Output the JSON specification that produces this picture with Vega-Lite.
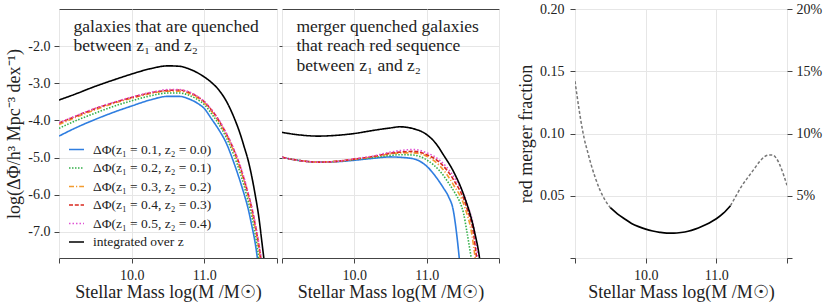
{
  "$schema": "https://vega.github.io/schema/vega-lite/v6.json",
  "padding": {"left": 5, "top": 1, "right": 5, "bottom": 0},
  "config": {
    "font": "Liberation Serif",
    "view": {"stroke": "#444", "strokeWidth": 1},
    "axis": {
      "labelFont": "Liberation Serif", "labelFontSize": 14, "labelColor": "#222",
      "titleFont": "Liberation Serif", "titleFontSize": 18, "titleFontWeight": "normal", "titleColor": "#222",
      "tickColor": "#444", "tickSize": 5, "domain": false, "gridColor": "#e6e6e6", "gridWidth": 1,
      "labelPadding": 4, "titlePadding": 4
    },
    "axisX": {"titlePadding": 1, "labelPadding": 5},
    "legend": {
      "labelFont": "Liberation Serif", "labelFontSize": 13.5, "labelColor": "#222",
      "symbolType": "stroke", "symbolSize": 225, "symbolStrokeWidth": 1.6,
      "labelOffset": 8, "rowPadding": 3.5, "padding": 0, "titlePadding": 0
    }
  },
  "datasets": {
    "quenched": [
      {"series": "ΔΦ(z₁ = 0.1, z₂ = 0.0)", "m": 9.0, "v": -4.42},
      {"series": "ΔΦ(z₁ = 0.1, z₂ = 0.0)", "m": 9.25, "v": -4.18},
      {"series": "ΔΦ(z₁ = 0.1, z₂ = 0.0)", "m": 9.5, "v": -3.97},
      {"series": "ΔΦ(z₁ = 0.1, z₂ = 0.0)", "m": 9.75, "v": -3.78},
      {"series": "ΔΦ(z₁ = 0.1, z₂ = 0.0)", "m": 10.0, "v": -3.61},
      {"series": "ΔΦ(z₁ = 0.1, z₂ = 0.0)", "m": 10.25, "v": -3.45},
      {"series": "ΔΦ(z₁ = 0.1, z₂ = 0.0)", "m": 10.5, "v": -3.35},
      {"series": "ΔΦ(z₁ = 0.1, z₂ = 0.0)", "m": 10.65, "v": -3.35},
      {"series": "ΔΦ(z₁ = 0.1, z₂ = 0.0)", "m": 10.8, "v": -3.43},
      {"series": "ΔΦ(z₁ = 0.1, z₂ = 0.0)", "m": 10.9, "v": -3.53},
      {"series": "ΔΦ(z₁ = 0.1, z₂ = 0.0)", "m": 11.0, "v": -3.68},
      {"series": "ΔΦ(z₁ = 0.1, z₂ = 0.0)", "m": 11.1, "v": -3.96},
      {"series": "ΔΦ(z₁ = 0.1, z₂ = 0.0)", "m": 11.2, "v": -4.25},
      {"series": "ΔΦ(z₁ = 0.1, z₂ = 0.0)", "m": 11.3, "v": -4.6},
      {"series": "ΔΦ(z₁ = 0.1, z₂ = 0.0)", "m": 11.4, "v": -5.1},
      {"series": "ΔΦ(z₁ = 0.1, z₂ = 0.0)", "m": 11.5, "v": -5.68},
      {"series": "ΔΦ(z₁ = 0.1, z₂ = 0.0)", "m": 11.55, "v": -6.0},
      {"series": "ΔΦ(z₁ = 0.1, z₂ = 0.0)", "m": 11.6, "v": -6.35},
      {"series": "ΔΦ(z₁ = 0.1, z₂ = 0.0)", "m": 11.65, "v": -6.8},
      {"series": "ΔΦ(z₁ = 0.1, z₂ = 0.0)", "m": 11.7, "v": -7.3},
      {"series": "ΔΦ(z₁ = 0.1, z₂ = 0.0)", "m": 11.75, "v": -8.0},

      {"series": "ΔΦ(z₁ = 0.2, z₂ = 0.1)", "m": 9.0, "v": -4.21},
      {"series": "ΔΦ(z₁ = 0.2, z₂ = 0.1)", "m": 9.25, "v": -3.99},
      {"series": "ΔΦ(z₁ = 0.2, z₂ = 0.1)", "m": 9.5, "v": -3.8},
      {"series": "ΔΦ(z₁ = 0.2, z₂ = 0.1)", "m": 9.75, "v": -3.62},
      {"series": "ΔΦ(z₁ = 0.2, z₂ = 0.1)", "m": 10.0, "v": -3.47},
      {"series": "ΔΦ(z₁ = 0.2, z₂ = 0.1)", "m": 10.25, "v": -3.34},
      {"series": "ΔΦ(z₁ = 0.2, z₂ = 0.1)", "m": 10.5, "v": -3.26},
      {"series": "ΔΦ(z₁ = 0.2, z₂ = 0.1)", "m": 10.65, "v": -3.26},
      {"series": "ΔΦ(z₁ = 0.2, z₂ = 0.1)", "m": 10.8, "v": -3.33},
      {"series": "ΔΦ(z₁ = 0.2, z₂ = 0.1)", "m": 10.9, "v": -3.43},
      {"series": "ΔΦ(z₁ = 0.2, z₂ = 0.1)", "m": 11.0, "v": -3.57},
      {"series": "ΔΦ(z₁ = 0.2, z₂ = 0.1)", "m": 11.1, "v": -3.82},
      {"series": "ΔΦ(z₁ = 0.2, z₂ = 0.1)", "m": 11.2, "v": -4.1},
      {"series": "ΔΦ(z₁ = 0.2, z₂ = 0.1)", "m": 11.3, "v": -4.45},
      {"series": "ΔΦ(z₁ = 0.2, z₂ = 0.1)", "m": 11.4, "v": -4.9},
      {"series": "ΔΦ(z₁ = 0.2, z₂ = 0.1)", "m": 11.5, "v": -5.45},
      {"series": "ΔΦ(z₁ = 0.2, z₂ = 0.1)", "m": 11.55, "v": -5.78},
      {"series": "ΔΦ(z₁ = 0.2, z₂ = 0.1)", "m": 11.6, "v": -6.15},
      {"series": "ΔΦ(z₁ = 0.2, z₂ = 0.1)", "m": 11.65, "v": -6.55},
      {"series": "ΔΦ(z₁ = 0.2, z₂ = 0.1)", "m": 11.7, "v": -7.05},
      {"series": "ΔΦ(z₁ = 0.2, z₂ = 0.1)", "m": 11.75, "v": -7.7},
      {"series": "ΔΦ(z₁ = 0.2, z₂ = 0.1)", "m": 11.8, "v": -8.4},

      {"series": "ΔΦ(z₁ = 0.3, z₂ = 0.2)", "m": 9.0, "v": -4.11},
      {"series": "ΔΦ(z₁ = 0.3, z₂ = 0.2)", "m": 9.25, "v": -3.9},
      {"series": "ΔΦ(z₁ = 0.3, z₂ = 0.2)", "m": 9.5, "v": -3.71},
      {"series": "ΔΦ(z₁ = 0.3, z₂ = 0.2)", "m": 9.75, "v": -3.54},
      {"series": "ΔΦ(z₁ = 0.3, z₂ = 0.2)", "m": 10.0, "v": -3.4},
      {"series": "ΔΦ(z₁ = 0.3, z₂ = 0.2)", "m": 10.25, "v": -3.28},
      {"series": "ΔΦ(z₁ = 0.3, z₂ = 0.2)", "m": 10.5, "v": -3.21},
      {"series": "ΔΦ(z₁ = 0.3, z₂ = 0.2)", "m": 10.65, "v": -3.21},
      {"series": "ΔΦ(z₁ = 0.3, z₂ = 0.2)", "m": 10.8, "v": -3.28},
      {"series": "ΔΦ(z₁ = 0.3, z₂ = 0.2)", "m": 10.9, "v": -3.38},
      {"series": "ΔΦ(z₁ = 0.3, z₂ = 0.2)", "m": 11.0, "v": -3.52},
      {"series": "ΔΦ(z₁ = 0.3, z₂ = 0.2)", "m": 11.1, "v": -3.75},
      {"series": "ΔΦ(z₁ = 0.3, z₂ = 0.2)", "m": 11.2, "v": -4.03},
      {"series": "ΔΦ(z₁ = 0.3, z₂ = 0.2)", "m": 11.3, "v": -4.38},
      {"series": "ΔΦ(z₁ = 0.3, z₂ = 0.2)", "m": 11.4, "v": -4.8},
      {"series": "ΔΦ(z₁ = 0.3, z₂ = 0.2)", "m": 11.5, "v": -5.33},
      {"series": "ΔΦ(z₁ = 0.3, z₂ = 0.2)", "m": 11.55, "v": -5.65},
      {"series": "ΔΦ(z₁ = 0.3, z₂ = 0.2)", "m": 11.6, "v": -6.0},
      {"series": "ΔΦ(z₁ = 0.3, z₂ = 0.2)", "m": 11.65, "v": -6.4},
      {"series": "ΔΦ(z₁ = 0.3, z₂ = 0.2)", "m": 11.7, "v": -6.88},
      {"series": "ΔΦ(z₁ = 0.3, z₂ = 0.2)", "m": 11.75, "v": -7.45},
      {"series": "ΔΦ(z₁ = 0.3, z₂ = 0.2)", "m": 11.8, "v": -8.1},

      {"series": "ΔΦ(z₁ = 0.4, z₂ = 0.3)", "m": 9.0, "v": -4.07},
      {"series": "ΔΦ(z₁ = 0.4, z₂ = 0.3)", "m": 9.25, "v": -3.87},
      {"series": "ΔΦ(z₁ = 0.4, z₂ = 0.3)", "m": 9.5, "v": -3.68},
      {"series": "ΔΦ(z₁ = 0.4, z₂ = 0.3)", "m": 9.75, "v": -3.52},
      {"series": "ΔΦ(z₁ = 0.4, z₂ = 0.3)", "m": 10.0, "v": -3.38},
      {"series": "ΔΦ(z₁ = 0.4, z₂ = 0.3)", "m": 10.25, "v": -3.26},
      {"series": "ΔΦ(z₁ = 0.4, z₂ = 0.3)", "m": 10.5, "v": -3.19},
      {"series": "ΔΦ(z₁ = 0.4, z₂ = 0.3)", "m": 10.65, "v": -3.18},
      {"series": "ΔΦ(z₁ = 0.4, z₂ = 0.3)", "m": 10.8, "v": -3.25},
      {"series": "ΔΦ(z₁ = 0.4, z₂ = 0.3)", "m": 10.9, "v": -3.35},
      {"series": "ΔΦ(z₁ = 0.4, z₂ = 0.3)", "m": 11.0, "v": -3.5},
      {"series": "ΔΦ(z₁ = 0.4, z₂ = 0.3)", "m": 11.1, "v": -3.72},
      {"series": "ΔΦ(z₁ = 0.4, z₂ = 0.3)", "m": 11.2, "v": -4.0},
      {"series": "ΔΦ(z₁ = 0.4, z₂ = 0.3)", "m": 11.3, "v": -4.35},
      {"series": "ΔΦ(z₁ = 0.4, z₂ = 0.3)", "m": 11.4, "v": -4.76},
      {"series": "ΔΦ(z₁ = 0.4, z₂ = 0.3)", "m": 11.5, "v": -5.28},
      {"series": "ΔΦ(z₁ = 0.4, z₂ = 0.3)", "m": 11.55, "v": -5.6},
      {"series": "ΔΦ(z₁ = 0.4, z₂ = 0.3)", "m": 11.6, "v": -5.95},
      {"series": "ΔΦ(z₁ = 0.4, z₂ = 0.3)", "m": 11.65, "v": -6.33},
      {"series": "ΔΦ(z₁ = 0.4, z₂ = 0.3)", "m": 11.7, "v": -6.8},
      {"series": "ΔΦ(z₁ = 0.4, z₂ = 0.3)", "m": 11.75, "v": -7.35},
      {"series": "ΔΦ(z₁ = 0.4, z₂ = 0.3)", "m": 11.8, "v": -8.0},

      {"series": "ΔΦ(z₁ = 0.5, z₂ = 0.4)", "m": 9.0, "v": -4.06},
      {"series": "ΔΦ(z₁ = 0.5, z₂ = 0.4)", "m": 9.25, "v": -3.86},
      {"series": "ΔΦ(z₁ = 0.5, z₂ = 0.4)", "m": 9.5, "v": -3.67},
      {"series": "ΔΦ(z₁ = 0.5, z₂ = 0.4)", "m": 9.75, "v": -3.51},
      {"series": "ΔΦ(z₁ = 0.5, z₂ = 0.4)", "m": 10.0, "v": -3.37},
      {"series": "ΔΦ(z₁ = 0.5, z₂ = 0.4)", "m": 10.25, "v": -3.25},
      {"series": "ΔΦ(z₁ = 0.5, z₂ = 0.4)", "m": 10.5, "v": -3.17},
      {"series": "ΔΦ(z₁ = 0.5, z₂ = 0.4)", "m": 10.65, "v": -3.17},
      {"series": "ΔΦ(z₁ = 0.5, z₂ = 0.4)", "m": 10.8, "v": -3.24},
      {"series": "ΔΦ(z₁ = 0.5, z₂ = 0.4)", "m": 10.9, "v": -3.34},
      {"series": "ΔΦ(z₁ = 0.5, z₂ = 0.4)", "m": 11.0, "v": -3.49},
      {"series": "ΔΦ(z₁ = 0.5, z₂ = 0.4)", "m": 11.1, "v": -3.71},
      {"series": "ΔΦ(z₁ = 0.5, z₂ = 0.4)", "m": 11.2, "v": -3.98},
      {"series": "ΔΦ(z₁ = 0.5, z₂ = 0.4)", "m": 11.3, "v": -4.33},
      {"series": "ΔΦ(z₁ = 0.5, z₂ = 0.4)", "m": 11.4, "v": -4.74},
      {"series": "ΔΦ(z₁ = 0.5, z₂ = 0.4)", "m": 11.5, "v": -5.25},
      {"series": "ΔΦ(z₁ = 0.5, z₂ = 0.4)", "m": 11.55, "v": -5.57},
      {"series": "ΔΦ(z₁ = 0.5, z₂ = 0.4)", "m": 11.6, "v": -5.92},
      {"series": "ΔΦ(z₁ = 0.5, z₂ = 0.4)", "m": 11.65, "v": -6.3},
      {"series": "ΔΦ(z₁ = 0.5, z₂ = 0.4)", "m": 11.7, "v": -6.76},
      {"series": "ΔΦ(z₁ = 0.5, z₂ = 0.4)", "m": 11.75, "v": -7.3},
      {"series": "ΔΦ(z₁ = 0.5, z₂ = 0.4)", "m": 11.8, "v": -7.95},

      {"series": "integrated over z", "m": 9.0, "v": -3.45},
      {"series": "integrated over z", "m": 9.25, "v": -3.27},
      {"series": "integrated over z", "m": 9.5, "v": -3.08},
      {"series": "integrated over z", "m": 9.75, "v": -2.91},
      {"series": "integrated over z", "m": 10.0, "v": -2.75},
      {"series": "integrated over z", "m": 10.25, "v": -2.61},
      {"series": "integrated over z", "m": 10.5, "v": -2.53},
      {"series": "integrated over z", "m": 10.65, "v": -2.54},
      {"series": "integrated over z", "m": 10.8, "v": -2.62},
      {"series": "integrated over z", "m": 10.9, "v": -2.71},
      {"series": "integrated over z", "m": 11.0, "v": -2.83},
      {"series": "integrated over z", "m": 11.1, "v": -2.98},
      {"series": "integrated over z", "m": 11.2, "v": -3.18},
      {"series": "integrated over z", "m": 11.3, "v": -3.47},
      {"series": "integrated over z", "m": 11.4, "v": -3.88},
      {"series": "integrated over z", "m": 11.5, "v": -4.4},
      {"series": "integrated over z", "m": 11.55, "v": -4.72},
      {"series": "integrated over z", "m": 11.6, "v": -5.05},
      {"series": "integrated over z", "m": 11.65, "v": -5.48},
      {"series": "integrated over z", "m": 11.7, "v": -6.0},
      {"series": "integrated over z", "m": 11.75, "v": -6.6},
      {"series": "integrated over z", "m": 11.8, "v": -7.4},
      {"series": "integrated over z", "m": 11.85, "v": -8.2}
    ],
    "merger": [
      {"series": "ΔΦ(z₁ = 0.1, z₂ = 0.0)", "m": 9.0, "v": -4.99},
      {"series": "ΔΦ(z₁ = 0.1, z₂ = 0.0)", "m": 9.25, "v": -5.08},
      {"series": "ΔΦ(z₁ = 0.1, z₂ = 0.0)", "m": 9.5, "v": -5.12},
      {"series": "ΔΦ(z₁ = 0.1, z₂ = 0.0)", "m": 9.75, "v": -5.11},
      {"series": "ΔΦ(z₁ = 0.1, z₂ = 0.0)", "m": 10.0, "v": -5.07},
      {"series": "ΔΦ(z₁ = 0.1, z₂ = 0.0)", "m": 10.25, "v": -5.02},
      {"series": "ΔΦ(z₁ = 0.1, z₂ = 0.0)", "m": 10.5, "v": -4.98},
      {"series": "ΔΦ(z₁ = 0.1, z₂ = 0.0)", "m": 10.63, "v": -4.99},
      {"series": "ΔΦ(z₁ = 0.1, z₂ = 0.0)", "m": 10.815, "v": -5.03},
      {"series": "ΔΦ(z₁ = 0.1, z₂ = 0.0)", "m": 11.0, "v": -5.23},
      {"series": "ΔΦ(z₁ = 0.1, z₂ = 0.0)", "m": 11.14, "v": -5.55},
      {"series": "ΔΦ(z₁ = 0.1, z₂ = 0.0)", "m": 11.23, "v": -5.81},
      {"series": "ΔΦ(z₁ = 0.1, z₂ = 0.0)", "m": 11.3, "v": -6.04},
      {"series": "ΔΦ(z₁ = 0.1, z₂ = 0.0)", "m": 11.37, "v": -6.44},
      {"series": "ΔΦ(z₁ = 0.1, z₂ = 0.0)", "m": 11.41, "v": -6.98},
      {"series": "ΔΦ(z₁ = 0.1, z₂ = 0.0)", "m": 11.45, "v": -7.69},
      {"series": "ΔΦ(z₁ = 0.1, z₂ = 0.0)", "m": 11.47, "v": -8.1},

      {"series": "ΔΦ(z₁ = 0.2, z₂ = 0.1)", "m": 9.0, "v": -4.99},
      {"series": "ΔΦ(z₁ = 0.2, z₂ = 0.1)", "m": 9.25, "v": -5.08},
      {"series": "ΔΦ(z₁ = 0.2, z₂ = 0.1)", "m": 9.5, "v": -5.12},
      {"series": "ΔΦ(z₁ = 0.2, z₂ = 0.1)", "m": 9.75, "v": -5.1},
      {"series": "ΔΦ(z₁ = 0.2, z₂ = 0.1)", "m": 10.0, "v": -5.05},
      {"series": "ΔΦ(z₁ = 0.2, z₂ = 0.1)", "m": 10.25, "v": -5.0},
      {"series": "ΔΦ(z₁ = 0.2, z₂ = 0.1)", "m": 10.5, "v": -4.94},
      {"series": "ΔΦ(z₁ = 0.2, z₂ = 0.1)", "m": 10.63, "v": -4.92},
      {"series": "ΔΦ(z₁ = 0.2, z₂ = 0.1)", "m": 10.815, "v": -4.93},
      {"series": "ΔΦ(z₁ = 0.2, z₂ = 0.1)", "m": 11.0, "v": -5.06},
      {"series": "ΔΦ(z₁ = 0.2, z₂ = 0.1)", "m": 11.186, "v": -5.37},
      {"series": "ΔΦ(z₁ = 0.2, z₂ = 0.1)", "m": 11.32, "v": -5.73},
      {"series": "ΔΦ(z₁ = 0.2, z₂ = 0.1)", "m": 11.4, "v": -5.98},
      {"series": "ΔΦ(z₁ = 0.2, z₂ = 0.1)", "m": 11.46, "v": -6.2},
      {"series": "ΔΦ(z₁ = 0.2, z₂ = 0.1)", "m": 11.51, "v": -6.5},
      {"series": "ΔΦ(z₁ = 0.2, z₂ = 0.1)", "m": 11.555, "v": -6.98},
      {"series": "ΔΦ(z₁ = 0.2, z₂ = 0.1)", "m": 11.615, "v": -7.69},
      {"series": "ΔΦ(z₁ = 0.2, z₂ = 0.1)", "m": 11.64, "v": -8.0},

      {"series": "ΔΦ(z₁ = 0.3, z₂ = 0.2)", "m": 9.0, "v": -4.99},
      {"series": "ΔΦ(z₁ = 0.3, z₂ = 0.2)", "m": 9.25, "v": -5.08},
      {"series": "ΔΦ(z₁ = 0.3, z₂ = 0.2)", "m": 9.5, "v": -5.12},
      {"series": "ΔΦ(z₁ = 0.3, z₂ = 0.2)", "m": 9.75, "v": -5.1},
      {"series": "ΔΦ(z₁ = 0.3, z₂ = 0.2)", "m": 10.0, "v": -5.04},
      {"series": "ΔΦ(z₁ = 0.3, z₂ = 0.2)", "m": 10.25, "v": -4.98},
      {"series": "ΔΦ(z₁ = 0.3, z₂ = 0.2)", "m": 10.5, "v": -4.9},
      {"series": "ΔΦ(z₁ = 0.3, z₂ = 0.2)", "m": 10.63, "v": -4.87},
      {"series": "ΔΦ(z₁ = 0.3, z₂ = 0.2)", "m": 10.815, "v": -4.87},
      {"series": "ΔΦ(z₁ = 0.3, z₂ = 0.2)", "m": 11.0, "v": -4.96},
      {"series": "ΔΦ(z₁ = 0.3, z₂ = 0.2)", "m": 11.186, "v": -5.23},
      {"series": "ΔΦ(z₁ = 0.3, z₂ = 0.2)", "m": 11.37, "v": -5.73},
      {"series": "ΔΦ(z₁ = 0.3, z₂ = 0.2)", "m": 11.53, "v": -6.35},
      {"series": "ΔΦ(z₁ = 0.3, z₂ = 0.2)", "m": 11.625, "v": -7.07},
      {"series": "ΔΦ(z₁ = 0.3, z₂ = 0.2)", "m": 11.67, "v": -7.69},
      {"series": "ΔΦ(z₁ = 0.3, z₂ = 0.2)", "m": 11.69, "v": -8.0},

      {"series": "ΔΦ(z₁ = 0.4, z₂ = 0.3)", "m": 9.0, "v": -4.99},
      {"series": "ΔΦ(z₁ = 0.4, z₂ = 0.3)", "m": 9.25, "v": -5.08},
      {"series": "ΔΦ(z₁ = 0.4, z₂ = 0.3)", "m": 9.5, "v": -5.12},
      {"series": "ΔΦ(z₁ = 0.4, z₂ = 0.3)", "m": 9.75, "v": -5.1},
      {"series": "ΔΦ(z₁ = 0.4, z₂ = 0.3)", "m": 10.0, "v": -5.04},
      {"series": "ΔΦ(z₁ = 0.4, z₂ = 0.3)", "m": 10.25, "v": -4.97},
      {"series": "ΔΦ(z₁ = 0.4, z₂ = 0.3)", "m": 10.5, "v": -4.88},
      {"series": "ΔΦ(z₁ = 0.4, z₂ = 0.3)", "m": 10.63, "v": -4.85},
      {"series": "ΔΦ(z₁ = 0.4, z₂ = 0.3)", "m": 10.815, "v": -4.83},
      {"series": "ΔΦ(z₁ = 0.4, z₂ = 0.3)", "m": 11.0, "v": -4.92},
      {"series": "ΔΦ(z₁ = 0.4, z₂ = 0.3)", "m": 11.186, "v": -5.14},
      {"series": "ΔΦ(z₁ = 0.4, z₂ = 0.3)", "m": 11.37, "v": -5.59},
      {"series": "ΔΦ(z₁ = 0.4, z₂ = 0.3)", "m": 11.555, "v": -6.35},
      {"series": "ΔΦ(z₁ = 0.4, z₂ = 0.3)", "m": 11.65, "v": -7.07},
      {"series": "ΔΦ(z₁ = 0.4, z₂ = 0.3)", "m": 11.69, "v": -7.69},
      {"series": "ΔΦ(z₁ = 0.4, z₂ = 0.3)", "m": 11.71, "v": -8.0},

      {"series": "ΔΦ(z₁ = 0.5, z₂ = 0.4)", "m": 9.0, "v": -4.99},
      {"series": "ΔΦ(z₁ = 0.5, z₂ = 0.4)", "m": 9.25, "v": -5.08},
      {"series": "ΔΦ(z₁ = 0.5, z₂ = 0.4)", "m": 9.5, "v": -5.12},
      {"series": "ΔΦ(z₁ = 0.5, z₂ = 0.4)", "m": 9.75, "v": -5.1},
      {"series": "ΔΦ(z₁ = 0.5, z₂ = 0.4)", "m": 10.0, "v": -5.03},
      {"series": "ΔΦ(z₁ = 0.5, z₂ = 0.4)", "m": 10.25, "v": -4.96},
      {"series": "ΔΦ(z₁ = 0.5, z₂ = 0.4)", "m": 10.5, "v": -4.85},
      {"series": "ΔΦ(z₁ = 0.5, z₂ = 0.4)", "m": 10.63, "v": -4.81},
      {"series": "ΔΦ(z₁ = 0.5, z₂ = 0.4)", "m": 10.815, "v": -4.78},
      {"series": "ΔΦ(z₁ = 0.5, z₂ = 0.4)", "m": 11.0, "v": -4.87},
      {"series": "ΔΦ(z₁ = 0.5, z₂ = 0.4)", "m": 11.186, "v": -5.08},
      {"series": "ΔΦ(z₁ = 0.5, z₂ = 0.4)", "m": 11.37, "v": -5.5},
      {"series": "ΔΦ(z₁ = 0.5, z₂ = 0.4)", "m": 11.555, "v": -6.22},
      {"series": "ΔΦ(z₁ = 0.5, z₂ = 0.4)", "m": 11.66, "v": -6.98},
      {"series": "ΔΦ(z₁ = 0.5, z₂ = 0.4)", "m": 11.71, "v": -7.69},
      {"series": "ΔΦ(z₁ = 0.5, z₂ = 0.4)", "m": 11.73, "v": -8.0},

      {"series": "integrated over z", "m": 9.0, "v": -4.32},
      {"series": "integrated over z", "m": 9.25, "v": -4.39},
      {"series": "integrated over z", "m": 9.5, "v": -4.42},
      {"series": "integrated over z", "m": 9.75, "v": -4.4},
      {"series": "integrated over z", "m": 10.0, "v": -4.35},
      {"series": "integrated over z", "m": 10.25, "v": -4.27},
      {"series": "integrated over z", "m": 10.5, "v": -4.2},
      {"series": "integrated over z", "m": 10.63, "v": -4.17},
      {"series": "integrated over z", "m": 10.815, "v": -4.22},
      {"series": "integrated over z", "m": 11.0, "v": -4.38},
      {"series": "integrated over z", "m": 11.14, "v": -4.65},
      {"series": "integrated over z", "m": 11.23, "v": -4.92},
      {"series": "integrated over z", "m": 11.37, "v": -5.37},
      {"series": "integrated over z", "m": 11.51, "v": -5.99},
      {"series": "integrated over z", "m": 11.66, "v": -6.98},
      {"series": "integrated over z", "m": 11.73, "v": -7.69},
      {"series": "integrated over z", "m": 11.75, "v": -8.0}
    ],
    "fraction": [
      {"segment": "low", "m": 9.0, "v": 0.142},
      {"segment": "low", "m": 9.04, "v": 0.126},
      {"segment": "low", "m": 9.085, "v": 0.1096},
      {"segment": "low", "m": 9.13, "v": 0.096},
      {"segment": "low", "m": 9.18, "v": 0.085},
      {"segment": "low", "m": 9.23, "v": 0.0746},
      {"segment": "low", "m": 9.29, "v": 0.064},
      {"segment": "low", "m": 9.345, "v": 0.0557},
      {"segment": "low", "m": 9.42, "v": 0.047},
      {"segment": "low", "m": 9.5, "v": 0.0404},
      {"segment": "fit", "m": 9.5, "v": 0.0404},
      {"segment": "fit", "m": 9.6, "v": 0.0355},
      {"segment": "fit", "m": 9.7, "v": 0.0315},
      {"segment": "fit", "m": 9.8, "v": 0.0278},
      {"segment": "fit", "m": 9.9, "v": 0.0252},
      {"segment": "fit", "m": 10.0, "v": 0.0232},
      {"segment": "fit", "m": 10.1, "v": 0.0217},
      {"segment": "fit", "m": 10.2, "v": 0.0206},
      {"segment": "fit", "m": 10.3, "v": 0.02},
      {"segment": "fit", "m": 10.4, "v": 0.02},
      {"segment": "fit", "m": 10.5, "v": 0.0205},
      {"segment": "fit", "m": 10.6, "v": 0.0215},
      {"segment": "fit", "m": 10.7, "v": 0.0232},
      {"segment": "fit", "m": 10.8, "v": 0.0255},
      {"segment": "fit", "m": 10.9, "v": 0.0282},
      {"segment": "fit", "m": 11.0, "v": 0.0315},
      {"segment": "fit", "m": 11.1, "v": 0.036},
      {"segment": "fit", "m": 11.2, "v": 0.042},
      {"segment": "high", "m": 11.2, "v": 0.042},
      {"segment": "high", "m": 11.27, "v": 0.049},
      {"segment": "high", "m": 11.35, "v": 0.057},
      {"segment": "high", "m": 11.45, "v": 0.065},
      {"segment": "high", "m": 11.54, "v": 0.0719},
      {"segment": "high", "m": 11.62, "v": 0.078},
      {"segment": "high", "m": 11.68, "v": 0.0813},
      {"segment": "high", "m": 11.75, "v": 0.0828},
      {"segment": "high", "m": 11.8, "v": 0.0827},
      {"segment": "high", "m": 11.85, "v": 0.08},
      {"segment": "high", "m": 11.9, "v": 0.0746},
      {"segment": "high", "m": 11.95, "v": 0.067},
      {"segment": "high", "m": 12.0, "v": 0.0584}
    ],
    "notes1": [{"note": "galaxies that are quenched\nbetween z₁ and z₂"}],
    "notes2": [{"note": "merger quenched galaxies\nthat reach red sequence\nbetween z₁ and z₂"}]
  },
  "spacing": 17,
  "resolve": {"scale": {"color": "independent", "strokeDash": "independent", "x": "independent", "y": "independent"}, "legend": {"color": "independent", "strokeDash": "independent"}},
  "hconcat": [
    {
      "spacing": 0,
      "resolve": {"scale": {"color": "independent", "strokeDash": "independent", "x": "independent", "y": "independent"}, "legend": {"color": "independent", "strokeDash": "independent"}},
      "hconcat": [
        {
          "width": 218,
          "height": 249,
          "layer": [
            {
              "data": {"name": "quenched"},
              "mark": {"type": "line", "clip": true, "strokeWidth": 1.6, "interpolate": "monotone"},
              "encoding": {
                "x": {"field": "m", "type": "quantitative", "scale": {"domain": [9, 12], "nice": false},
                  "axis": {"values": [9, 9.5, 10, 10.5, 11, 11.5, 12], "labelExpr": "datum.value == 10 || datum.value == 11 ? format(datum.value, '.1f') : ''", "title": "Stellar Mass log(M /M☉)"}},
                "y": {"field": "v", "type": "quantitative", "scale": {"domain": [-7.7, -1.0], "nice": false, "zero": false},
                  "axis": {"values": [-7, -6, -5, -4, -3, -2], "labelExpr": "'-' + format(abs(datum.value), '.1f')", "title": "log(ΔΦ/h³ Mpc⁻³ dex⁻¹)"}},
                "color": {"field": "series", "type": "nominal",
                  "scale": {"domain": ["ΔΦ(z₁ = 0.1, z₂ = 0.0)", "ΔΦ(z₁ = 0.2, z₂ = 0.1)", "ΔΦ(z₁ = 0.3, z₂ = 0.2)", "ΔΦ(z₁ = 0.4, z₂ = 0.3)", "ΔΦ(z₁ = 0.5, z₂ = 0.4)", "integrated over z"],
                    "range": ["#2f7ee0", "#34b04a", "#f39b2f", "#d9291f", "#e052d4", "#000000"]},
                  "legend": {"title": null, "orient": "bottom-left", "offset": 9}},
                "strokeDash": {"field": "series", "type": "nominal",
                  "scale": {"domain": ["ΔΦ(z₁ = 0.1, z₂ = 0.0)", "ΔΦ(z₁ = 0.2, z₂ = 0.1)", "ΔΦ(z₁ = 0.3, z₂ = 0.2)", "ΔΦ(z₁ = 0.4, z₂ = 0.3)", "ΔΦ(z₁ = 0.5, z₂ = 0.4)", "integrated over z"],
                    "range": [[1, 0], [1.5, 1.5], [5, 2, 1.2, 2], [4, 1.8], [1.5, 2], [1, 0]]},
                  "legend": {"title": null, "orient": "bottom-left", "offset": 9}}
              }
            },
            {
              "data": {"name": "notes1"},
              "mark": {"type": "text", "align": "left", "baseline": "top", "lineBreak": "\n", "fontSize": 17.5, "lineHeight": 19.5, "font": "Liberation Serif", "color": "#222"},
              "encoding": {
                "x": {"datum": 9.2, "type": "quantitative"},
                "y": {"datum": -1.24, "type": "quantitative"},
                "text": {"field": "note"}
              }
            }
          ]
        },
        {
          "width": 217,
          "height": 249,
          "layer": [
            {
              "data": {"name": "merger"},
              "mark": {"type": "line", "clip": true, "strokeWidth": 1.6, "interpolate": "monotone"},
              "encoding": {
                "x": {"field": "m", "type": "quantitative", "scale": {"domain": [9, 12], "nice": false},
                  "axis": {"values": [9, 9.5, 10, 10.5, 11, 11.5, 12], "labelExpr": "datum.value == 10 || datum.value == 11 ? format(datum.value, '.1f') : ''", "title": "Stellar Mass log(M /M☉)"}},
                "y": {"field": "v", "type": "quantitative", "scale": {"domain": [-7.7, -1.0], "nice": false, "zero": false},
                  "axis": {"values": [-7, -6, -5, -4, -3, -2], "labels": false, "title": null, "tickSize": 3}},
                "color": {"field": "series", "type": "nominal",
                  "scale": {"domain": ["ΔΦ(z₁ = 0.1, z₂ = 0.0)", "ΔΦ(z₁ = 0.2, z₂ = 0.1)", "ΔΦ(z₁ = 0.3, z₂ = 0.2)", "ΔΦ(z₁ = 0.4, z₂ = 0.3)", "ΔΦ(z₁ = 0.5, z₂ = 0.4)", "integrated over z"],
                    "range": ["#2f7ee0", "#34b04a", "#f39b2f", "#d9291f", "#e052d4", "#000000"]},
                  "legend": null},
                "strokeDash": {"field": "series", "type": "nominal",
                  "scale": {"domain": ["ΔΦ(z₁ = 0.1, z₂ = 0.0)", "ΔΦ(z₁ = 0.2, z₂ = 0.1)", "ΔΦ(z₁ = 0.3, z₂ = 0.2)", "ΔΦ(z₁ = 0.4, z₂ = 0.3)", "ΔΦ(z₁ = 0.5, z₂ = 0.4)", "integrated over z"],
                    "range": [[1, 0], [1.5, 1.5], [5, 2, 1.2, 2], [4, 1.8], [1.5, 2], [1, 0]]},
                  "legend": null}
              }
            },
            {
              "data": {"name": "notes2"},
              "mark": {"type": "text", "align": "left", "baseline": "top", "lineBreak": "\n", "fontSize": 17.5, "lineHeight": 19.5, "font": "Liberation Serif", "color": "#222"},
              "encoding": {
                "x": {"datum": 9.2, "type": "quantitative"},
                "y": {"datum": -1.24, "type": "quantitative"},
                "text": {"field": "note"}
              }
            }
          ]
        }
      ]
    },
    {
      "width": 212,
      "height": 249,
      "data": {"name": "fraction"},
      "resolve": {"scale": {"y": "independent"}},
      "layer": [
        {
          "transform": [{"filter": "datum.segment != 'fit'"}],
          "mark": {"type": "line", "clip": true, "strokeWidth": 1.5, "color": "#777777", "strokeDash": [3, 2], "interpolate": "monotone"},
          "encoding": {
            "x": {"field": "m", "type": "quantitative", "scale": {"domain": [9, 12], "nice": false},
              "axis": {"values": [9, 9.5, 10, 10.5, 11, 11.5, 12], "labelExpr": "datum.value == 10 || datum.value == 11 ? format(datum.value, '.1f') : ''", "title": "Stellar Mass log(M /M☉)"}},
            "y": {"field": "v", "type": "quantitative", "scale": {"domain": [0, 0.2], "nice": false},
              "axis": {"values": [0, 0.05, 0.1, 0.15, 0.2], "labelExpr": "datum.value == 0 ? '' : format(datum.value, '.2f')", "title": "red merger fraction", "labelPadding": 6}},
            "detail": {"field": "segment"}
          }
        },
        {
          "transform": [{"filter": "datum.segment == 'fit'"}],
          "mark": {"type": "line", "clip": true, "strokeWidth": 1.7, "color": "#000000", "interpolate": "monotone"},
          "encoding": {
            "x": {"field": "m", "type": "quantitative", "scale": {"domain": [9, 12], "nice": false}},
            "y": {"field": "v", "type": "quantitative", "scale": {"domain": [0, 0.2], "nice": false},
              "axis": {"orient": "right", "grid": false, "values": [0, 0.05, 0.1, 0.15, 0.2], "labelExpr": "datum.value == 0 ? '' : format(datum.value * 100, 'd') + '%'", "title": null}}
          }
        }
      ]
    }
  ]
}
